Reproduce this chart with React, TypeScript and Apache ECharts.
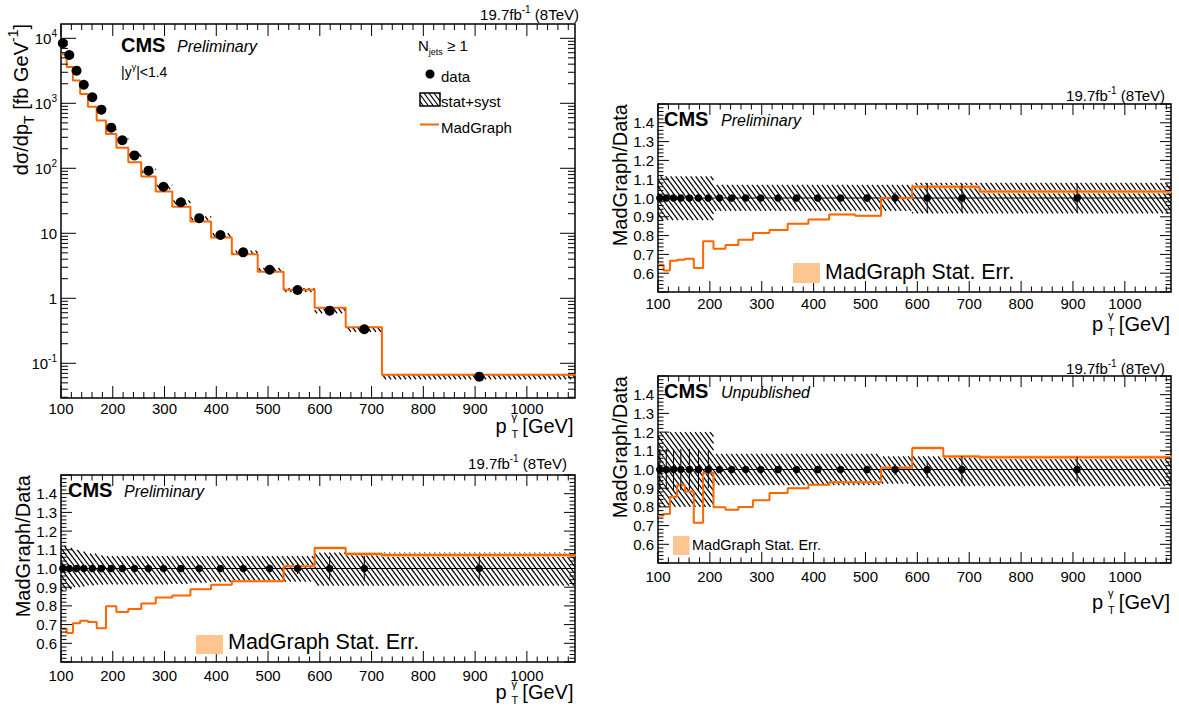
import React, { useEffect, useRef } from "react";
import * as echarts from "echarts";

// ---------------- data ----------------
const binEdges = [100, 111, 123, 137, 152, 169, 187, 207, 230, 255, 283, 315, 350, 390, 430, 480, 530, 590, 650, 720, 1100];
const dataPtX = [103.5, 116, 130, 144, 160.5, 178, 197, 218.5, 242, 269, 298, 331.5, 367, 408, 452, 503, 557, 619, 686, 908];
const dataXsec = [8380, 5530, 3175, 1930, 1237, 797, 422, 270, 158, 92, 52, 30, 17.1, 9.4, 5.1, 2.75, 1.34, 0.645, 0.334, 0.0622];
const mgXsec = [5673, 3622, 2245, 1392, 883, 542, 337, 207, 124, 74.8, 43.9, 25.7, 15.2, 8.58, 4.75, 2.56, 1.357, 0.715, 0.359, 0.0667];

// bottom-left ratio panel
const ratioBL = [0.677, 0.655, 0.707, 0.721, 0.714, 0.68, 0.798, 0.768, 0.784, 0.8125, 0.845, 0.855, 0.889, 0.9125, 0.932, 0.932, 1.0125, 1.11, 1.078, 1.072];
const bandUpBL = [0.12, 0.11, 0.1, 0.09, 0.08, 0.07, 0.066, 0.066, 0.066, 0.066, 0.066, 0.066, 0.066, 0.066, 0.066, 0.066, 0.066, 0.085, 0.085, 0.085];
const bandDnBL = [0.12, 0.11, 0.1, 0.095, 0.09, 0.086, 0.085, 0.085, 0.085, 0.085, 0.085, 0.082, 0.075, 0.07, 0.07, 0.07, 0.07, 0.092, 0.092, 0.092];
const statBL = [0.004, 0.004, 0.004, 0.004, 0.004, 0.004, 0.005, 0.005, 0.006, 0.007, 0.008, 0.01, 0.012, 0.014, 0.016, 0.02, 0.03, 0.066, 0.068, 0.066];

// top-right ratio panel
const ratioTR = [0.645, 0.614, 0.666, 0.671, 0.677, 0.627, 0.77, 0.73, 0.75, 0.778, 0.814, 0.83, 0.863, 0.886, 0.9125, 0.905, 1.0, 1.06, 1.06, 1.034];
const bandUpTR = [0.115, 0.115, 0.115, 0.115, 0.115, 0.115, 0.115, 0.07, 0.07, 0.07, 0.07, 0.07, 0.07, 0.07, 0.07, 0.07, 0.07, 0.08, 0.08, 0.08];
const bandDnTR = [0.118, 0.118, 0.118, 0.118, 0.118, 0.118, 0.118, 0.068, 0.068, 0.068, 0.068, 0.068, 0.068, 0.068, 0.068, 0.068, 0.068, 0.082, 0.082, 0.082];
const statTR = [0.004, 0.004, 0.004, 0.004, 0.004, 0.004, 0.005, 0.005, 0.006, 0.007, 0.008, 0.01, 0.012, 0.014, 0.016, 0.02, 0.03, 0.08, 0.075, 0.078];

// bottom-right ratio panel
const ratioBR = [0.754, 0.762, 0.854, 0.916, 0.882, 0.715, 0.983, 0.798, 0.785, 0.8, 0.835, 0.874, 0.9, 0.918, 0.932, 0.932, 1.01, 1.115, 1.07, 1.065];
const bandUpBR = [0.2, 0.2, 0.2, 0.2, 0.2, 0.2, 0.2, 0.084, 0.084, 0.084, 0.084, 0.084, 0.084, 0.084, 0.084, 0.084, 0.07, 0.07, 0.07, 0.07];
const bandDnBR = [0.2, 0.2, 0.2, 0.2, 0.2, 0.2, 0.2, 0.084, 0.084, 0.084, 0.084, 0.084, 0.084, 0.084, 0.084, 0.084, 0.075, 0.088, 0.088, 0.088];
const statBR = [0.11, 0.11, 0.11, 0.11, 0.11, 0.11, 0.1, 0.01, 0.01, 0.01, 0.01, 0.012, 0.012, 0.014, 0.016, 0.02, 0.03, 0.045, 0.072, 0.068];

// MadGraph statistical error (ratio units)
const mgStatErr = [0.003, 0.003, 0.003, 0.003, 0.003, 0.003, 0.003, 0.003, 0.003, 0.003, 0.003, 0.003, 0.004, 0.004, 0.005, 0.005, 0.006, 0.008, 0.009, 0.01];

// tick labels
const xTickLabels = [100, 200, 300, 400, 500, 600, 700, 800, 900, 1000];
const ratioTickLabels = [0.6, 0.7, 0.8, 0.9, 1.0, 1.1, 1.2, 1.3, 1.4];
const logTickExponents = [-1, 0, 1, 2, 3, 4];

// ---------------- style ----------------
const FONT = '"Liberation Sans", Arial, Helvetica, sans-serif';
const ORANGE = "#ff6600";
const LIGHT = "#fdc691";
const HATCH_D = 5;
const HATCH_S = 1.35;
const HATCH_W = 1.25;

const panels: any[] = [
  { left: 61, top: 24, width: 514, height: 374, xMax: 1093, yMin: -1.534, yMax: 4.22, log: true, xLabelMargin: 3 },
  { left: 61, top: 475, width: 514, height: 187, xMax: 1093, yMin: 0.5, yMax: 1.5, xLabelMargin: 6, ratio: ratioBL, up: bandUpBL, dn: bandDnBL, stat: statBL },
  { left: 658, top: 104, width: 513, height: 188, xMax: 1089, yMin: 0.5, yMax: 1.5, xLabelMargin: 4, ratio: ratioTR, up: bandUpTR, dn: bandDnTR, stat: statTR },
  { left: 658, top: 376, width: 513, height: 187, xMax: 1089, yMin: 0.5, yMax: 1.5, xLabelMargin: 6, ratio: ratioBR, up: bandUpBR, dn: bandDnBR, stat: statBR },
];

function hatchLines(x0: number, y0: number, x1: number, y1: number) {
  const els: any[] = [];
  if (!(x1 > x0) || !(y1 > y0)) return els;
  const d = HATCH_D, s = HATCH_S;
  const cMin = Math.floor((x0 - y1 / s) / d) * d;
  const cMax = x1 - y0 / s;
  for (let k = 0; cMin + k * d <= cMax; k++) {
    const c = cMin + k * d;
    const ya = Math.max(y0, (x0 - c) * s);
    const yb = Math.min(y1, (x1 - c) * s);
    if (yb > ya) {
      els.push({ type: "line", silent: true, shape: { x1: c + ya / s, y1: ya, x2: c + yb / s, y2: yb }, style: { stroke: "#000", lineWidth: HATCH_W } });
    }
  }
  return els;
}

function clipRect(params: any, api: any) {
  const cs = params.coordSys;
  const a = api.coord([api.value(0), api.value(3)]);
  const b = api.coord([api.value(1), api.value(2)]);
  const x0 = Math.max(Math.min(a[0], b[0]), cs.x);
  const x1 = Math.min(Math.max(a[0], b[0]), cs.x + cs.width);
  const y0 = Math.max(Math.min(a[1], b[1]), cs.y);
  const y1 = Math.min(Math.max(a[1], b[1]), cs.y + cs.height);
  return { x0, x1, y0, y1 };
}

const hatchRender = (params: any, api: any) => {
  const r = clipRect(params, api);
  return { type: "group", children: hatchLines(r.x0, r.y0, r.x1, r.y1) };
};

const bandRender = (params: any, api: any) => {
  const r = clipRect(params, api);
  if (!(r.x1 > r.x0)) return { type: "group", children: [] };
  return { type: "rect", shape: { x: r.x0, y: r.y0, width: r.x1 - r.x0, height: Math.max(r.y1 - r.y0, 0.5) }, style: { fill: LIGHT } };
};

const errRender = (params: any, api: any) => {
  const a = api.coord([api.value(0), api.value(1)]);
  const b = api.coord([api.value(0), api.value(2)]);
  return { type: "line", shape: { x1: a[0], y1: a[1], x2: b[0], y2: b[1] }, style: { stroke: "#000", lineWidth: 1 } };
};

function makeTickRender(p: any) {
  const xMajor: number[] = [];
  const xMinor: number[] = [];
  for (let v = 100; v <= p.xMax; v += 20) {
    if (v % 100 === 0) xMajor.push(v);
    else xMinor.push(v);
  }
  const yMajor: number[] = [];
  const yMinor: number[] = [];
  if (p.log) {
    for (let dd = -2; dd <= 5; dd++) {
      if (dd >= p.yMin && dd <= p.yMax) yMajor.push(dd);
      for (let k = 2; k <= 9; k++) {
        const v = dd + Math.log10(k);
        if (v >= p.yMin && v <= p.yMax) yMinor.push(v);
      }
    }
  } else {
    for (let i = 0; i <= 50; i++) {
      const v = 0.5 + i * 0.02;
      if (i % 5 === 0) yMajor.push(v);
      else yMinor.push(v);
    }
  }
  const xMajLen = p.log ? 12 : 11, xMinLen = p.log ? 6 : 5.5;
  const yMajLen = p.log ? 15 : 11, yMinLen = p.log ? 7 : 5.5;
  return (params: any, api: any) => {
    const cs = params.coordSys;
    const top = cs.y, bottom = cs.y + cs.height, left = cs.x, right = cs.x + cs.width;
    const ch: any[] = [];
    const L = (x1: number, y1: number, x2: number, y2: number) =>
      ch.push({ type: "line", silent: true, shape: { x1, y1, x2, y2 }, style: { stroke: "#000", lineWidth: 1 } });
    xMajor.forEach((v) => { const x = api.coord([v, p.yMin])[0]; L(x, bottom, x, bottom - xMajLen); L(x, top, x, top + xMajLen); });
    xMinor.forEach((v) => { const x = api.coord([v, p.yMin])[0]; L(x, bottom, x, bottom - xMinLen); L(x, top, x, top + xMinLen); });
    yMajor.forEach((v) => { const y = api.coord([100, v])[1]; L(left, y, left + yMajLen, y); L(right, y, right - yMajLen, y); });
    yMinor.forEach((v) => { const y = api.coord([100, v])[1]; L(left, y, left + yMinLen, y); L(right, y, right - yMinLen, y); });
    return { type: "group", children: ch };
  };
}

// ---------------- graphic helpers ----------------
function txt(x: number, y: number, text: string, opts: any = {}, extra: any = {}) {
  const align = opts.align || "left";
  const va = opts.verticalAlign || "middle";
  return {
    type: "text", x, y, silent: true, z: 20, ...extra,
    style: { text, fill: "#000", fontFamily: FONT, fontSize: 15, ...opts, align, verticalAlign: va, textAlign: align, textVerticalAlign: va },
  };
}

function rs(fontSize: number, extra: any = {}) {
  return { fontSize, fontFamily: FONT, fill: "#000", color: "#000", ...extra };
}

function lumi(right: number, cy: number) {
  return txt(right, cy, "{a|19.7fb}{u|-1}{a| (8TeV)}", {
    align: "right",
    rich: { a: rs(15, { lineHeight: 20 }), u: rs(10, { lineHeight: 10, verticalAlign: "top" }) },
  });
}

function cmsLabel(x: number, cy: number, x2: number, word: string) {
  return [
    txt(x, cy, "CMS", { fontSize: 20, fontWeight: "bold" }),
    txt(x2, cy + 1, word, { fontSize: 16, fontStyle: "italic" }),
  ];
}

function ptTitle(right: number, cy: number) {
  return [
    txt(right, cy, "[GeV]", { fontSize: 20, align: "right" }),
    txt(right - 62, cy, "γ\nT", { fontSize: 11, lineHeight: 16.5 }),
    txt(right - 67, cy, "p", { fontSize: 20, align: "right" }),
  ];
}

function ratioTitle(x: number, top: number) {
  return txt(x, top, "MadGraph/Data", { fontSize: 20, align: "right" }, { rotation: Math.PI / 2 });
}

function statLegend(x: number, y: number, w: number, h: number, tx: number, ty: number, fs: number) {
  return [
    { type: "rect", silent: true, z: 20, shape: { x, y, width: w, height: h }, style: { fill: LIGHT } },
    txt(tx, ty, "MadGraph Stat. Err.", { fontSize: fs }),
  ];
}

function buildOption() {
  const series: any[] = [];
  panels.forEach((p, g) => {
    const isMain = !!p.log;
    const hatchData = dataXsec.map((v, i) =>
      isMain
        ? [binEdges[i], binEdges[i + 1], Math.log10(v * (1 - bandDnBL[i])), Math.log10(v * (1 + bandUpBL[i]))]
        : [binEdges[i], binEdges[i + 1], 1 - p.dn[i], 1 + p.up[i]]
    );
    series.push({ type: "custom", xAxisIndex: g, yAxisIndex: g, z: 2, silent: true, data: hatchData, renderItem: hatchRender });
    if (!isMain) {
      series.push({
        type: "custom", xAxisIndex: g, yAxisIndex: g, z: 3, silent: true,
        data: p.ratio.map((r: number, i: number) => [binEdges[i], binEdges[i + 1], r - mgStatErr[i], r + mgStatErr[i]]),
        renderItem: bandRender,
      });
      series.push({
        type: "line", xAxisIndex: g, yAxisIndex: g, z: 4, silent: true, symbol: "none",
        data: [[100, 1], [p.xMax, 1]], lineStyle: { color: "#000", width: 1 },
      });
      series.push({
        type: "custom", xAxisIndex: g, yAxisIndex: g, z: 6, silent: true,
        data: dataPtX.map((x, i) => [x, 1 - p.stat[i], 1 + p.stat[i]]),
        renderItem: errRender,
      });
    }
    const vals: number[] = isMain ? mgXsec.map((v) => Math.log10(v)) : p.ratio;
    series.push({
      type: "line", xAxisIndex: g, yAxisIndex: g, z: 5, silent: true, step: "end", symbol: "none",
      data: binEdges.map((e, i) => [e, vals[Math.min(i, vals.length - 1)]]),
      lineStyle: { color: ORANGE, width: 2 },
    });
    series.push({
      type: "scatter", xAxisIndex: g, yAxisIndex: g, z: 7, silent: true, symbol: "circle",
      symbolSize: isMain ? 10 : 7.5, itemStyle: { color: "#000", opacity: 1 },
      data: dataPtX.map((x, i) => [x, isMain ? Math.log10(dataXsec[i]) : 1]),
    });
    series.push({
      type: "custom", xAxisIndex: g, yAxisIndex: g, z: 8, silent: true,
      data: [[100, p.yMin]], renderItem: makeTickRender(p),
    });
  });

  const grid = panels.map((p) => ({
    left: p.left, top: p.top, width: p.width, height: p.height,
    show: true, borderColor: "#000", borderWidth: 1.5, backgroundColor: "transparent",
    containLabel: false, outerBoundsMode: "none",
  }));

  const xAxis = panels.map((p, g) => ({
    gridIndex: g, type: "value", min: 100, max: p.xMax,
    axisLine: { show: false }, axisTick: { show: false }, splitLine: { show: false }, minorTick: { show: false },
    axisLabel: {
      customValues: xTickLabels, formatter: (v: number) => String(Math.round(v)),
      color: "#000", fontSize: 15, fontFamily: FONT, margin: p.xLabelMargin, showMinLabel: true, showMaxLabel: true,
    },
  }));

  const yAxis = panels.map((p, g) => ({
    gridIndex: g, type: "value", min: p.yMin, max: p.yMax,
    axisLine: { show: false }, axisTick: { show: false }, splitLine: { show: false }, minorTick: { show: false },
    axisLabel: p.log
      ? {
          customValues: logTickExponents,
          formatter: (v: number) => {
            const k = Math.round(v);
            if (k === 0) return "{b|1}";
            if (k === 1) return "{b|10}";
            return "{b|10}{s|" + k + "}";
          },
          margin: 4, showMinLabel: true, showMaxLabel: true,
          rich: { b: rs(15, { lineHeight: 20 }), s: rs(10, { lineHeight: 10, verticalAlign: "top" }) },
        }
      : {
          customValues: ratioTickLabels, formatter: (v: number) => v.toFixed(1),
          color: "#000", fontSize: 15, fontFamily: FONT, margin: 4, showMinLabel: true, showMaxLabel: true,
        },
  }));

  const graphicEls: any[] = [
    // top-left main panel
    lumi(579, 14),
    ...cmsLabel(121, 45, 177, "Preliminary"),
    txt(121, 72, "{a||y}{u|γ}{a||<1.4}", {
      rich: { a: rs(14, { lineHeight: 20 }), u: rs(9, { lineHeight: 9, verticalAlign: "top" }) },
    }),
    txt(418, 45, "{n|N}{s|jets}{n| ≥ 1}", {
      rich: { n: rs(15, { lineHeight: 22 }), s: rs(9, { lineHeight: 9, verticalAlign: "bottom" }) },
    }),
    { type: "circle", silent: true, z: 20, shape: { cx: 430, cy: 74, r: 4.5 }, style: { fill: "#000" } },
    txt(441, 76, "data"),
    { type: "group", silent: true, z: 20, children: hatchLines(420, 93, 440, 106) },
    { type: "rect", silent: true, z: 20, shape: { x: 420, y: 93, width: 20, height: 13 }, style: { fill: "none", stroke: "#000", lineWidth: 1.5 } },
    txt(441, 101, "stat+syst"),
    { type: "line", silent: true, z: 20, shape: { x1: 420, y1: 124.5, x2: 439, y2: 124.5 }, style: { stroke: ORANGE, lineWidth: 2 } },
    txt(441, 127, "MadGraph"),
    txt(21, 24, "{a|dσ/dp}{s|T}{a| [fb GeV}{u|-1}{a|]}", {
      align: "right",
      rich: {
        a: rs(20, { lineHeight: 30 }),
        s: rs(14, { lineHeight: 14, verticalAlign: "bottom" }),
        u: rs(14, { lineHeight: 14, verticalAlign: "top" }),
      },
    }, { rotation: Math.PI / 2 }),
    ...ptTitle(573.5, 425.5),

    // bottom-left ratio
    lumi(567, 463.5),
    ...cmsLabel(68, 490, 124, "Preliminary"),
    ratioTitle(23, 475),
    ...statLegend(196, 635, 27, 19, 228, 642, 21.5),
    ...ptTitle(573.5, 692),

    // top-right ratio
    lumi(1165, 95),
    ...cmsLabel(664, 119, 721, "Preliminary"),
    ratioTitle(620, 104),
    ...statLegend(793, 263, 27, 20, 825, 272, 21.3),
    ...ptTitle(1170, 323.5),

    // bottom-right ratio
    lumi(1165, 368),
    ...cmsLabel(664, 391, 721, "Unpublished"),
    ratioTitle(620, 376),
    ...statLegend(673, 536, 16.5, 19, 692, 545, 14.5),
    ...ptTitle(1170, 601.5),
  ];

  return {
    animation: false,
    backgroundColor: "#fff",
    textStyle: { fontFamily: FONT },
    grid,
    xAxis,
    yAxis,
    series,
    graphic: { elements: graphicEls },
  };
}

export default function App() {
  const ref = useRef<HTMLDivElement>(null);
  useEffect(() => {
    if (!ref.current) return;
    const chart = echarts.init(ref.current, null, { renderer: "svg" });
    chart.setOption(buildOption() as any);
    return () => chart.dispose();
  }, []);
  return (
    <div
      ref={ref}
      style={{ position: "absolute", left: 0, top: 0, width: 1179, height: 718, background: "#fff" }}
    />
  );
}
